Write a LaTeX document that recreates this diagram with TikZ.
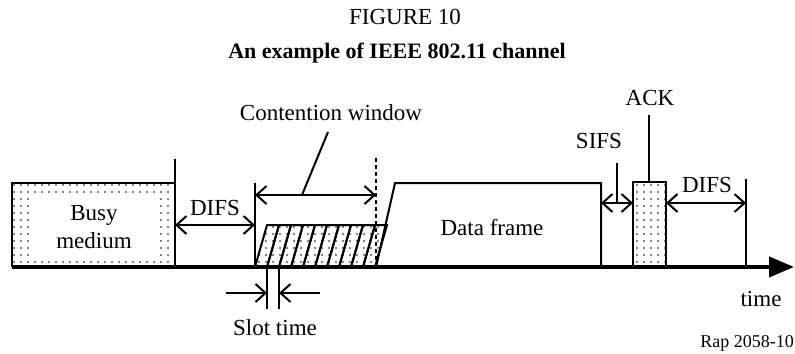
\documentclass[tikz,border=0pt]{standalone}
\usepackage{fontspec}
\setmainfont{Liberation Serif}
\usetikzlibrary{arrows.meta,patterns.meta}
\begin{document}
\begin{tikzpicture}[x=0.5pt,y=-0.5pt,
 ln/.style={line width=1pt},
 dimarr/.style={ln,{Straight Barb[length=5pt,width=9pt]}-{Straight Barb[length=5pt,width=9pt]}},
 dimin/.style={ln,-{Straight Barb[length=5pt,width=9pt]}},
 lbl/.style={font=\fontsize{11.5}{14}\selectfont, inner sep=0pt, anchor=base},
 dotfill/.style={pattern={Dots[distance=3.5pt,radius=0.55pt]}, pattern color=black!65},
]
\useasboundingbox (0,0) rectangle (795,353);

% titles
\node[lbl] (fig) at (405,25) {FIGURE 10};
\node[lbl,font=\fontsize{11}{13}\selectfont\bfseries] (ttl) at (397,59) {An example of IEEE 802.11 channel};

% busy medium
\fill[dotfill] (12,183) rectangle (175,267);
\fill[white] (30,193) rectangle (158,258);
\draw[ln] (12,267) -- (12,183) -- (175,183);
\node[lbl,anchor=center,align=center] (busy) at (94,227) {Busy\\medium};

% DIFS 1
\coordinate (b1) at (175,159); \coordinate (b2) at (175,267);
\draw[ln] (b1) -- (b2);
\coordinate (c1) at (255,183); \coordinate (c2) at (255,267);
\draw[ln] (c1) -- (c2);
\coordinate (d1a) at (175,225); \coordinate (d1b) at (255,225);
\draw[dimarr] (d1a) -- (d1b);
\node[lbl] (difs1) at (215,215) {DIFS};

% contention window
\coordinate (cwa) at (255,195); \coordinate (cwb) at (376,195);
\draw[dimarr] (cwa) -- (cwb);
\coordinate (ds1) at (376,158); \coordinate (ds2) at (376,267);
\draw[ln,dash pattern=on 2pt off 1.5pt] (ds1) -- (ds2);
\node[lbl] (cwl) at (331,120) {Contention window};
\coordinate (cwlead) at (302,195);
\draw[ln] (cwlead) -- (328,132);

% slots
\foreach \i in {0,...,9}{
  \draw[ln,dotfill] ({255+12*\i},267) -- ({267+12*\i},267) -- ({279+12*\i},225) -- ({267+12*\i},225) -- cycle;
}

% slot time
\coordinate (s1a) at (267,267); \coordinate (s1b) at (267,309);
\coordinate (s2a) at (279,267); \coordinate (s2b) at (279,309);
\draw[ln] (s1a) -- (s1b);
\draw[ln] (s2a) -- (s2b);
\coordinate (sl) at (226,293); \coordinate (slt) at (267,293);
\coordinate (sr) at (320,293); \coordinate (srt) at (279,293);
\draw[dimin] (sl) -- (slt);
\draw[dimin] (sr) -- (srt);
\node[lbl] (slot) at (275,335) {Slot time};

% data frame
\draw[ln] (376,267) -- (395,183) -- (601,183) -- (601,267);
\node[lbl] (data) at (492,235) {Data frame};

% SIFS
\coordinate (sfa) at (601,203); \coordinate (sfb) at (633,203);
\draw[dimarr] (sfa) -- (sfb);
\coordinate (sflead) at (617,163);
\draw[ln] (sflead) -- (617,203);
\node[lbl] (sifs) at (599,148) {SIFS};

% ACK
\draw[ln,dotfill] (633,182) rectangle (666,267);
\coordinate (acklead) at (649,115);
\draw[ln] (acklead) -- (649,182);
\node[lbl] (ack) at (650,105) {ACK};

% DIFS 2
\coordinate (d2a) at (666,203); \coordinate (d2b) at (746,203);
\draw[dimarr] (d2a) -- (d2b);
\coordinate (e1) at (746,179); \coordinate (e2) at (746,267);
\draw[ln] (e1) -- (e2);
\node[lbl] (difs2) at (707,192) {DIFS};

% time axis
\coordinate (ax0) at (12,267); \coordinate (ax1) at (794,267);
\draw[line width=2pt,-{Triangle[length=12.5pt,width=10pt]}] (ax0) -- (ax1);
\node[lbl] (time) at (761,306) {time};
\node[lbl,font=\fontsize{9}{11}\selectfont] (rap) at (747,347) {Rap 2058-10};
\end{tikzpicture}
\end{document}
